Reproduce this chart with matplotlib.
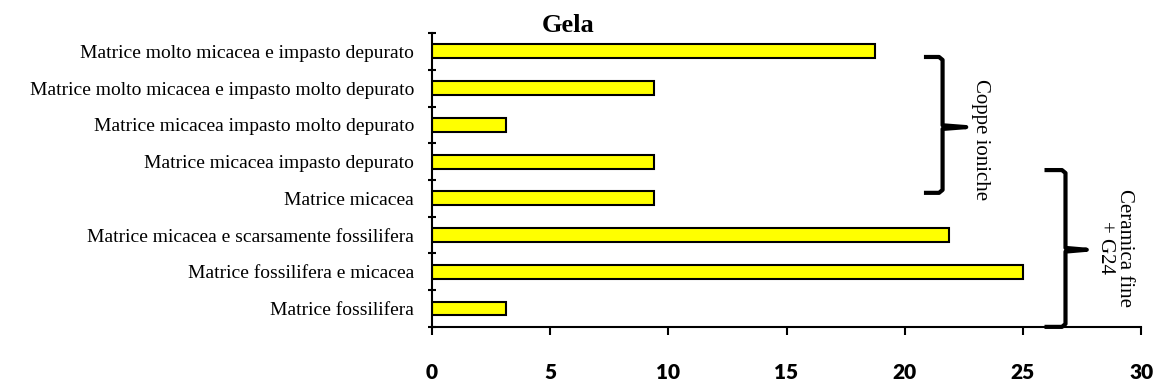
import numpy as np
import matplotlib.pyplot as plt
from matplotlib.lines import Line2D

# categorie (dal basso verso l'alto)
categorie = [
    "Matrice fossilifera",
    "Matrice fossilifera e micacea",
    "Matrice micacea e scarsamente fossilifera",
    "Matrice micacea",
    "Matrice micacea impasto depurato",
    "Matrice micacea impasto molto depurato",
    "Matrice molto micacea e impasto molto depurato",
    "Matrice molto micacea e impasto depurato",
]
valori = [3.125, 25.0, 21.875, 9.375, 9.375, 3.125, 9.375, 18.75]
x_ticks = [0, 5, 10, 15, 20, 25, 30]


def graffa(ax, x0, xv, xp, y_top, y_bot, y_mid):
    # parentesi graffa verticale aperta a sinistra
    xs = [x0, xv - 0.15, xv, xv, xp, xv, xv, xv - 0.15, x0]
    ys = [y_top, y_top, y_top - 0.08, y_mid + 0.05, y_mid, y_mid - 0.05,
          y_bot + 0.08, y_bot, y_bot]
    ax.add_line(Line2D(xs, ys, color="black", lw=3, clip_on=False,
                       solid_joinstyle="round"))


fig = plt.figure(figsize=(11.55, 3.85), dpi=100)
ax = fig.add_axes([0.374, 0.151, 0.614, 0.763])

y = np.arange(len(categorie))
ax.barh(y, valori, height=0.38, color="#FFFF00", edgecolor="black", linewidth=1.5)

ax.set_xlim(0, 30)
ax.set_ylim(-0.5, len(categorie) - 0.5)
ax.set_xticks(x_ticks)
ax.set_xticklabels([str(v) for v in x_ticks], fontfamily="Lato",
                   fontweight="heavy", fontsize=15)
ax.set_yticks(y)
ax.set_yticklabels(categorie, fontfamily="Liberation Serif", fontsize=14)
ax.set_yticks(np.arange(-0.5, len(categorie)), minor=True)

ax.tick_params(axis="y", which="major", length=0, pad=13)
ax.tick_params(axis="y", which="minor", length=6, width=1.5, direction="inout")
ax.tick_params(axis="x", length=6, width=1.5, direction="out", pad=20)

for s in ["top", "right"]:
    ax.spines[s].set_visible(False)
for s in ["left", "bottom"]:
    ax.spines[s].set_linewidth(1.5)

fig.text(568 / 1155, 1 - 26 / 385, "Gela", fontfamily="Liberation Serif",
         fontweight="bold", fontsize=19, ha="center", va="center")

# gruppi
graffa(ax, 20.9, 21.6, 22.6, 6.85, 3.15, 4.94)
ax.text(23.2, 4.6, "Coppe ioniche", rotation=-90, ha="center", va="center",
        fontfamily="Liberation Serif", fontsize=15, clip_on=False)
graffa(ax, 26.0, 26.8, 27.7, 3.77, -0.5, 1.6)
ax.text(28.9, 1.65, "Ceramica fine\n+ G24", rotation=-90, ha="center",
        va="center", fontfamily="Liberation Serif", fontsize=15,
        multialignment="center", linespacing=1.0, clip_on=False)

fig.savefig("out.png", dpi=100)
